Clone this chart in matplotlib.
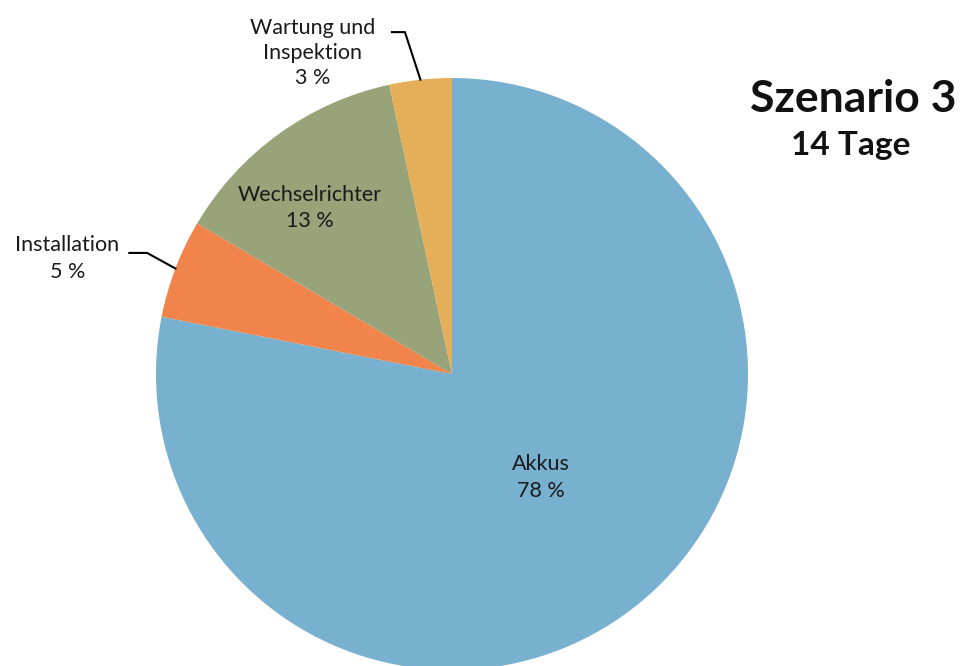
import numpy as np
import matplotlib.pyplot as plt

plt.rcParams['font.family'] = ['Lato', 'DejaVu Sans']

categories = ['Akkus', 'Installation', 'Wechselrichter', 'Wartung und\nInspektion']
shares = [78.1, 5.4, 13.1, 3.4]
colors = ['#78b0cf', '#f0844a', '#98a37a', '#e5ae58']

fig = plt.figure(figsize=(9.63, 6.66), dpi=100)
# pie centred at (452, 374) px, radius 296 px
ax = fig.add_axes([156 / 963, -4 / 666, 592 / 963, 592 / 666])
wedges, _ = ax.pie(shares, colors=colors, startangle=90, counterclock=False,
                   radius=1, wedgeprops=dict(linewidth=0))
ax.set_xlim(-1, 1)
ax.set_ylim(-1, 1)
ax.axis('off')
for w in wedges:
    w.set_clip_on(False)

pct = [f'{round(s)} %' for s in shares]
fs = 15.5


def mid_point(w, r=1.0):
    a = np.deg2rad((w.theta1 + w.theta2) / 2)
    return r * np.cos(a), r * np.sin(a)


# inside labels
ax.text(0.30, -0.35, f'{categories[0]}\n{pct[0]}', ha='center', va='center',
        fontsize=fs, color='#1a1a1a', linespacing=1.4)
ax.text(-0.48, 0.56, f'{categories[2]}\n{pct[2]}', ha='center', va='center',
        fontsize=fs, color='#1a1a1a', linespacing=1.4)

# outside labels with leader lines
ax.text(-1.30, 0.39, f'{categories[1]}\n{pct[1]}', ha='center', va='center',
        fontsize=fs, color='#1a1a1a', linespacing=1.4, clip_on=False)
x1, y1 = mid_point(wedges[1])
ax.plot([-1.09, -1.03, x1], [0.409, 0.409, y1], color='black', lw=1.5,
        clip_on=False)

ax.text(-0.47, 1.085, f'{categories[3]}\n{pct[3]}', ha='center', va='center',
        fontsize=fs, color='#1a1a1a', linespacing=1.3, clip_on=False)
x3, y3 = mid_point(wedges[3])
ax.plot([-0.203, -0.159, x3], [1.155, 1.155, y3], color='black', lw=1.5,
        clip_on=False)

fig.text(853 / 963, 1 - 99 / 666, 'Szenario 3', ha='center', va='center',
         fontsize=32, fontweight='bold', color='#111111')
fig.text(851 / 963, 1 - 145 / 666, '14 Tage', ha='center', va='center',
         fontsize=24, fontweight='bold', color='#111111')

fig.savefig('out.png', dpi=100)
